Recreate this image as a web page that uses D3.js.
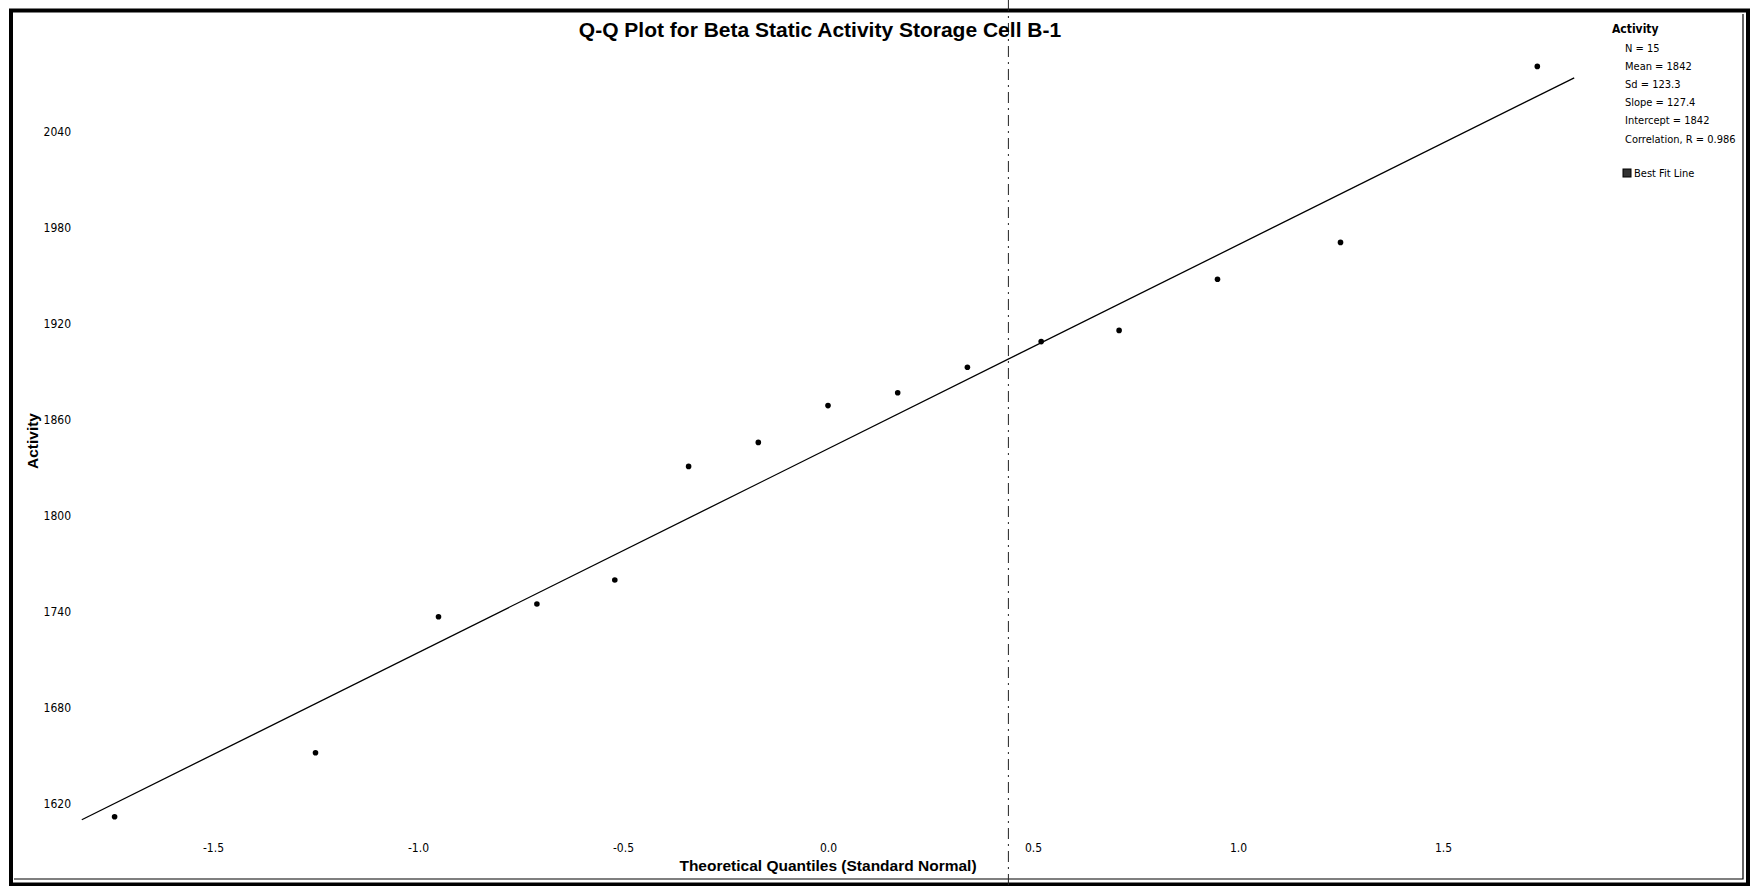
<!DOCTYPE html>
<html lang="en">
<head>
<meta charset="utf-8" />
<style>
body { margin: 0; background: #fff; }
.qqFrame { fill: none; stroke: #000; stroke-width: 4px; }
.qqFrameInner { fill: none; stroke: #000; stroke-width: 1.2px; }
.qqTitle { font-family: "Liberation Sans", Arial, sans-serif; font-weight: bold; font-size: 21px; text-anchor: middle; fill: #000; }
.qqAxisTitle { font-family: "Liberation Sans", Arial, sans-serif; font-weight: bold; font-size: 15.5px; text-anchor: middle; fill: #000; }
.qqAxis text { font-family: "Liberation Sans Narrow", "DejaVu Sans Condensed", sans-serif; font-size: 12px; fill: #000; }
.qqAxis .domain { display: none; }
.qqFit { stroke: #000; stroke-width: 1.3px; fill: none; }
.qqPoint { fill: #000; }
.qqFold { stroke: #222; stroke-width: 1px; stroke-dasharray: 11,5,2,5; }
.qqLegend { font-family: "Liberation Sans Narrow", "DejaVu Sans Condensed", sans-serif; font-size: 11px; fill: #000; }
.qqLegendHead { font-weight: bold; font-size: 12px; }
</style>
</head>
<body>
<script src="https://cdn.jsdelivr.net/npm/d3@7/dist/d3.min.js"></script>
<script>
// values
var quantiles = [-1.74, -1.25, -0.95, -0.71, -0.52, -0.34, -0.17, 0.0, 0.17, 0.34, 0.52, 0.71, 0.95, 1.25, 1.73];
var activity = [1612, 1652, 1737, 1745, 1760, 1831, 1846, 1869, 1877, 1893, 1909, 1916, 1948, 1971, 2081];
var xTicks = [-1.5, -1.0, -0.5, 0.0, 0.5, 1.0, 1.5];
var yTicks = [1620, 1680, 1740, 1800, 1860, 1920, 1980, 2040];
var fitSlope = 127.4,
    fitIntercept = 1842,
    fitExtent = [-1.82, 1.82];
var foldAt = 0.44;   // the dash-dot crease running down the page
var legendTitle = "Activity";
var legendStats = ["N = 15", "Mean = 1842", "Sd = 123.3", "Slope = 127.4", "Intercept = 1842", "Correlation, R = 0.986"];
var legendKey = "Best Fit Line";

var width = 1757,
    height = 886;

var svg = d3.select("body").append("svg")
    .attr("width", width)
    .attr("height", height);

var x = d3.scaleLinear().domain([-1.85, 1.85]).range([69.5, 1586.5]);
var y = d3.scaleLinear().domain([1600, 2100]).range([836, 36]);

// frame
svg.append("rect")
    .attr("class", "qqFrame")
    .attr("x", 11).attr("y", 10.5)
    .attr("width", 1737).attr("height", 874);
svg.append("path")
    .attr("class", "qqFrameInner")
    .attr("d", "M1743,14 L1743,879 L14,879");

// fold line
svg.append("line")
    .attr("class", "qqFold")
    .attr("x1", x(foldAt)).attr("x2", x(foldAt))
    .attr("y1", 0).attr("y2", height);

svg.append("text")
    .attr("class", "qqTitle")
    .attr("x", 820).attr("y", 37)
    .text("Q-Q Plot for Beta Static Activity Storage Cell B-1");

// axes, labels only
svg.append("g")
    .attr("class", "qqAxis")
    .attr("transform", "translate(74,0)")
    .call(d3.axisLeft(y).tickValues(yTicks).tickSize(0).tickPadding(3)
        .tickFormat(function (d) { return d3.format("d")(d); }))
    .attr("font-family", null).attr("font-size", null);

svg.append("g")
    .attr("class", "qqAxis")
    .attr("transform", "translate(0,837)")
    .call(d3.axisBottom(x).tickValues(xTicks).tickSize(0).tickPadding(6)
        .tickFormat(function (d) { return d.toFixed(1); }))
    .attr("font-family", null).attr("font-size", null);

svg.append("text")
    .attr("class", "qqAxisTitle")
    .attr("x", x(0)).attr("y", 871)
    .text("Theoretical Quantiles (Standard Normal)");

svg.append("text")
    .attr("class", "qqAxisTitle")
    .attr("transform", "translate(38,441) rotate(-90)")
    .text("Activity");

// best fit line
var fitLine = d3.line()
    .x(function (d) { return x(d); })
    .y(function (d) { return y(fitIntercept + fitSlope * d); });

svg.append("path")
    .datum(fitExtent)
    .attr("class", "qqFit")
    .attr("d", fitLine);

// points
var points = quantiles.map(function (q, i) { return { q: q, v: activity[i] }; });

svg.selectAll(".qqPoint")
    .data(points)
  .enter().append("circle")
    .attr("class", "qqPoint")
    .attr("cx", function (d) { return x(d.q); })
    .attr("cy", function (d) { return y(d.v); })
    .attr("r", 2.8);

// legend
var legend = svg.append("g").attr("class", "qqLegend");

legend.append("text")
    .attr("class", "qqLegendHead")
    .attr("x", 1612).attr("y", 32.5)
    .text(legendTitle);

legend.selectAll(".stat")
    .data(legendStats)
  .enter().append("text")
    .attr("class", "stat")
    .attr("x", 1625)
    .attr("y", function (d, i) { return 51.5 + i * 18.2; })
    .text(function (d) { return d; });

legend.append("rect")
    .attr("x", 1623).attr("y", 169)
    .attr("width", 8).attr("height", 8)
    .attr("fill", "#333").attr("stroke", "#000");

legend.append("text")
    .attr("x", 1634).attr("y", 177)
    .text(legendKey);
</script>
</body>
</html>
